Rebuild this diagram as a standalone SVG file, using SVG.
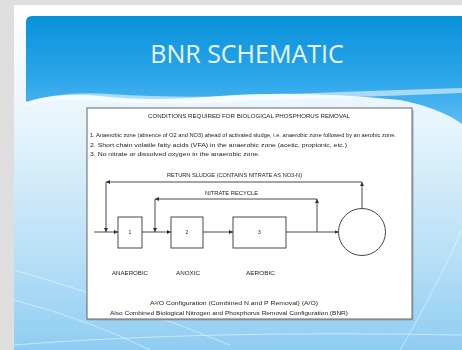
<svg xmlns="http://www.w3.org/2000/svg" width="462" height="350" viewBox="0 0 462 350">
  <defs>
    <linearGradient id="hdr" x1="0" y1="0" x2="0" y2="1">
      <stop offset="0" stop-color="#0892da"/>
      <stop offset="0.6" stop-color="#2ea6ea"/>
      <stop offset="1" stop-color="#5cbdf1"/>
    </linearGradient>
    <linearGradient id="body" x1="0" y1="0" x2="0" y2="1">
      <stop offset="0" stop-color="#ffffff"/>
      <stop offset="0.35" stop-color="#e6f4fc"/>
      <stop offset="0.75" stop-color="#b5def6"/>
      <stop offset="1" stop-color="#8fcdf2"/>
    </linearGradient>
    <marker id="arr" viewBox="0 0 6 6" refX="6" refY="3" markerWidth="4" markerHeight="4" orient="auto" markerUnits="userSpaceOnUse">
      <path d="M0,0 L6,3 L0,6 Z" fill="#333"/>
    </marker>
    <filter id="soft" x="-5%" y="-5%" width="110%" height="110%">
      <feGaussianBlur stdDeviation="0.45"/>
    </filter>
  </defs>
  <style>
    .tiny { font-family: "Liberation Sans", Arial, sans-serif; font-size: 5px; fill: #222; }
    .lbl { font-family: "Liberation Sans", Arial, sans-serif; font-size: 4.6px; fill: #222; text-anchor: middle; }
    .num { font-family: "Liberation Sans", Arial, sans-serif; font-size: 5px; fill: #222; text-anchor: middle; }
    .ln { stroke: #333; stroke-width: 0.9; fill: none; }
    .tank { fill: #ffffff; stroke: #333; stroke-width: 0.9; }
  </style>

  <!-- page surround -->
  <rect x="0" y="0" width="462" height="350" fill="#dedede"/>
  <!-- slide background -->
  <rect x="14" y="5" width="448" height="345" fill="url(#body)"/>
  <!-- header band -->
  <path d="M26,22 Q26,16 32,16 L462,16 L462,124 Q440,108 400,100 Q300,90 220,96 Q150,102 100,96 Q60,92 26,102 Z" fill="url(#hdr)"/>
  <!-- white swoosh at header edge -->
  <path d="M26,102 Q60,91 110,94 Q170,98 240,96 Q330,92 462,88 L462,93 Q330,98 240,101 Q150,106 90,100 Q55,98 26,106 Z" fill="#ffffff" opacity="0.55"/>
  <!-- decorative curves -->
  <g fill="none" stroke="#ffffff" stroke-width="0.8" opacity="0.6">
    <path d="M14,270 Q120,300 230,345"/>
    <path d="M14,300 Q90,320 150,350"/>
    <path d="M462,230 Q430,300 400,350"/>
    <path d="M14,345 Q200,330 462,335"/>
  </g>

  <text x="247" y="63" text-anchor="middle" font-family="'Open Sans', 'Liberation Sans', sans-serif" font-size="25" fill="#eaf6fd">BNR SCHEMATIC</text>

  <!-- schematic sheet -->
  <rect x="89" y="110" width="325" height="211" fill="#9aa8b2" opacity="0.5"/>
  <rect x="87" y="108" width="325" height="211" fill="#ffffff" stroke="#555" stroke-width="0.9"/>

  <g filter="url(#soft)">
    <g id="notes">
      <text class="tiny" x="249" y="117.5" text-anchor="middle" textLength="202" lengthAdjust="spacingAndGlyphs">CONDITIONS REQUIRED FOR BIOLOGICAL PHOSPHORUS REMOVAL</text>
      <text class="tiny" x="90" y="136.5" textLength="306" lengthAdjust="spacingAndGlyphs">1. Anaerobic zone (absence of O2 and NO3) ahead of activated sludge, i.e. anaerobic zone followed by an aerobic zone.</text>
      <text class="tiny" x="90" y="146.5" textLength="257" lengthAdjust="spacingAndGlyphs">2. Short chain volatile fatty acids (VFA) in the anaerobic zone (acetic, propionic, etc.)</text>
      <text class="tiny" x="90" y="156" textLength="170" lengthAdjust="spacingAndGlyphs">3. No nitrate or dissolved oxygen in the anaerobic zone.</text>
    </g>

    <g id="connectors">
      <!-- influent to tank 1 -->
      <line class="ln" x1="94" y1="232" x2="118" y2="232" marker-end="url(#arr)"/>
      <!-- tank 1 to tank 2 -->
      <line class="ln" x1="142" y1="232" x2="171" y2="232" marker-end="url(#arr)"/>
      <!-- tank 2 to tank 3 -->
      <line class="ln" x1="203" y1="232" x2="233" y2="232" marker-end="url(#arr)"/>
      <!-- tank 3 to clarifier -->
      <line class="ln" x1="286" y1="232" x2="338.5" y2="232" marker-end="url(#arr)"/>
      <!-- return sludge loop -->
      <line class="ln" x1="362" y1="208.5" x2="362" y2="182" marker-end="url(#arr)"/>
      <line class="ln" x1="362" y1="182" x2="106" y2="182" marker-end="url(#arr)"/>
      <line class="ln" x1="106" y1="182" x2="106" y2="232" marker-end="url(#arr)"/>
      <!-- nitrate recycle loop -->
      <line class="ln" x1="317" y1="232" x2="317" y2="199" marker-end="url(#arr)"/>
      <line class="ln" x1="317" y1="199" x2="155" y2="199" marker-end="url(#arr)"/>
      <line class="ln" x1="155" y1="199" x2="155" y2="232" marker-end="url(#arr)"/>
      <text class="lbl" x="234.5" y="177" textLength="135" lengthAdjust="spacingAndGlyphs">RETURN SLUDGE (CONTAINS NITRATE AS NO3-N)</text>
      <text class="lbl" x="231.5" y="194.5" textLength="53" lengthAdjust="spacingAndGlyphs">NITRATE RECYCLE</text>
    </g>

    <g id="tank1">
      <rect class="tank" x="118" y="217" width="24" height="31"/>
      <text class="num" x="130" y="234">1</text>
      <text class="lbl" x="130" y="274.5" textLength="36" lengthAdjust="spacingAndGlyphs">ANAEROBIC</text>
    </g>
    <g id="tank2">
      <rect class="tank" x="171" y="217" width="32" height="31"/>
      <text class="num" x="187" y="234">2</text>
      <text class="lbl" x="188" y="274.5" textLength="24" lengthAdjust="spacingAndGlyphs">ANOXIC</text>
    </g>
    <g id="tank3">
      <rect class="tank" x="233" y="217" width="53" height="31"/>
      <text class="num" x="259.5" y="234">3</text>
      <text class="lbl" x="260.5" y="274.5" textLength="29" lengthAdjust="spacingAndGlyphs">AEROBIC</text>
    </g>
    <g id="clarifier">
      <circle class="tank" cx="362" cy="232" r="23.5"/>
    </g>

    <g id="captions">
      <text class="tiny" x="234" y="304.5" text-anchor="middle" textLength="168" lengthAdjust="spacingAndGlyphs">A²/O Configuration (Combined N and P Removal) (A/O)</text>
      <text class="tiny" x="229" y="314.5" text-anchor="middle" textLength="238" lengthAdjust="spacingAndGlyphs">Also Combined Biological Nitrogen and Phosphorus Removal Configuration (BNR)</text>
    </g>
  </g>
</svg>
